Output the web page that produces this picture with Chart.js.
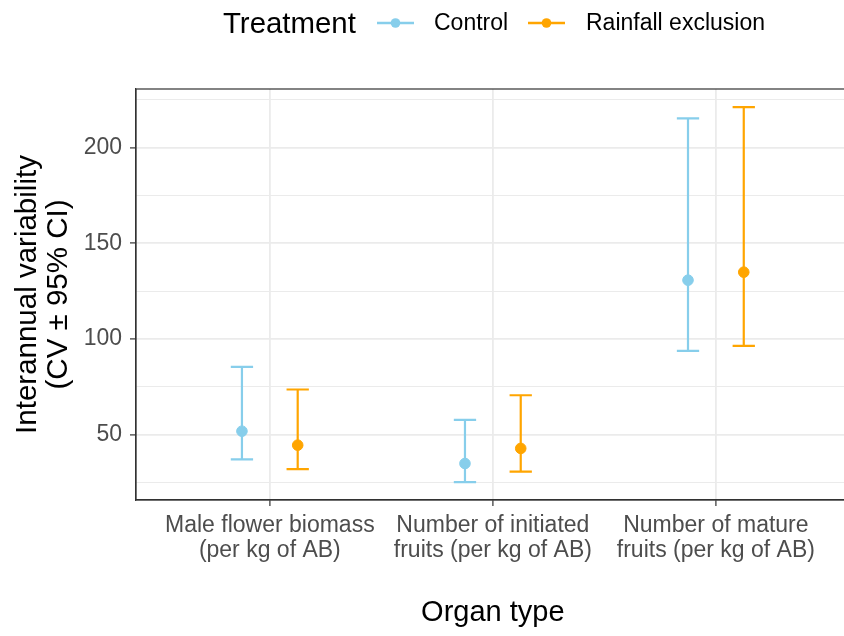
<!DOCTYPE html>
<html>
<head>
<meta charset="utf-8">
<script src="https://cdn.jsdelivr.net/npm/chart.js@4.4.1/dist/chart.umd.min.js"></script>
<style>
  html, body { margin: 0; padding: 0; background: #fff; overflow: hidden; }
  body { width: 844px; height: 636px; position: relative; font-family: "Liberation Sans", Arial, sans-serif; }
  #wrap { position: absolute; left: 0; top: 0; width: 856px; height: 636px; }
  .lg { position: absolute; line-height: 1; white-space: nowrap; color: #000; }
  .mk { position: absolute; }
</style>
</head>
<body>
<div id="wrap"><canvas id="chart" width="856" height="636"></canvas></div>
<div id="legend"></div>
<script>
// categories on the x axis
const organs = [
  ['Male flower biomass', '(per kg of AB)'],
  ['Number of initiated', 'fruits (per kg of AB)'],
  ['Number of mature', 'fruits (per kg of AB)']
];
// treatments and their colours
const treatments = ['Control', 'Rainfall exclusion'];
const colors = ['#87CEEB', '#FFA500'];
// CV values with the 95% CI, one array per treatment
const control_cv = [51.7, 34.8, 130.7];
const control_lo = [36.9, 25.1, 93.7];
const control_hi = [85.3, 57.6, 215.3];
const rain_cv = [44.4, 42.7, 134.9];
const rain_lo = [31.9, 30.5, 96.3];
const rain_hi = [73.5, 70.5, 221.2];

const dodge = 0.125;
const capHalf = 0.05;

// build the datasets, control dodged left and rainfall dodged right
function makeSet(label, color, cv, lo, hi, shift) {
  return {
    label: label,
    data: cv.map((v, i) => ({ x: i + 1 + shift, y: v, lo: lo[i], hi: hi[i] })),
    backgroundColor: color,
    borderColor: color,
    pointRadius: 5.3,
    pointHoverRadius: 5.3,
    showLine: false
  };
}
const datasets = [
  makeSet(treatments[0], colors[0], control_cv, control_lo, control_hi, -dodge),
  makeSet(treatments[1], colors[1], rain_cv, rain_lo, rain_hi, dodge)
];

// error bars drawn through the chart scales, under the points
const errorBars = {
  id: 'errorBars',
  beforeDatasetsDraw(chart) {
    const ctx = chart.ctx;
    const xs = chart.scales.x, ys = chart.scales.y;
    ctx.save();
    chart.data.datasets.forEach(ds => {
      ctx.strokeStyle = ds.borderColor;
      ctx.lineWidth = 2.2;
      ds.data.forEach(p => {
        const x = xs.getPixelForValue(p.x);
        const x0 = xs.getPixelForValue(p.x - capHalf);
        const x1 = xs.getPixelForValue(p.x + capHalf);
        const yl = ys.getPixelForValue(p.lo);
        const yh = ys.getPixelForValue(p.hi);
        ctx.beginPath();
        ctx.moveTo(x, yl); ctx.lineTo(x, yh);
        ctx.moveTo(x0, yl); ctx.lineTo(x1, yl);
        ctx.moveTo(x0, yh); ctx.lineTo(x1, yh);
        ctx.stroke();
      });
    });
    ctx.restore();
  }
};

// panel border
const panelBorder = {
  id: 'panelBorder',
  afterDraw(chart) {
    const a = chart.chartArea, ctx = chart.ctx;
    ctx.save();
    ctx.strokeStyle = '#333';
    ctx.lineWidth = 1.2;
    ctx.strokeRect(a.left, a.top, a.right - a.left, a.bottom - a.top);
    ctx.restore();
  }
};

const isMajor = v => v % 50 === 0;

new Chart(document.getElementById('chart'), {
  type: 'scatter',
  data: { datasets: datasets },
  plugins: [errorBars, panelBorder],
  options: {
    responsive: false,
    animation: false,
    layout: { padding: { top: 89, right: 6, left: 0, bottom: 0 } },
    plugins: { legend: { display: false }, tooltip: { enabled: false } },
    scales: {
      x: {
        type: 'linear',
        min: 0.4,
        max: 3.6,
        afterBuildTicks: s => { s.ticks = [1, 2, 3].map(v => ({ value: v })); },
        afterFit: s => { s.height = 136; },
        ticks: {
          callback: v => organs[v - 1],
          color: '#4d4d4d',
          font: { family: 'Liberation Sans', size: 23, lineHeight: '24.5px' },
          padding: 7.5,
          maxRotation: 0,
          autoSkip: false
        },
        grid: { color: '#ebebeb', lineWidth: 1.8, tickLength: 6, tickColor: '#333', tickWidth: 1.2 },
        border: { color: '#333', width: 1.2 },
        title: {
          display: true,
          text: 'Organ type',
          color: '#000',
          font: { family: 'Liberation Sans', size: 29, lineHeight: 1.2 },
          padding: { top: 0, bottom: 6 }
        }
      },
      y: {
        min: 15.7,
        max: 230.7,
        afterBuildTicks: s => { s.ticks = [25, 50, 75, 100, 125, 150, 175, 200, 225].map(v => ({ value: v })); },
        afterFit: s => { s.width = 136; },
        ticks: {
          callback: v => isMajor(v) ? String(v) : '',
          color: '#4d4d4d',
          font: { family: 'Liberation Sans', size: 23 },
          padding: 8
        },
        grid: {
          color: '#ebebeb',
          lineWidth: c => isMajor(c.tick.value) ? 1.8 : 1,
          tickLength: 6,
          tickColor: c => isMajor(c.tick.value) ? '#333' : 'rgba(0,0,0,0)',
          tickWidth: 1.2
        },
        border: { color: '#333', width: 1.2 },
        title: {
          display: true,
          text: ['Interannual variability', '(CV \u00b1 95% CI)'],
          color: '#000',
          font: { family: 'Liberation Sans', size: 29.5, lineHeight: '31px' },
          padding: { top: 12.5, bottom: 0 }
        }
      }
    }
  }
});

// legend built from the same series, placed as in the reference
const legend = document.getElementById('legend');
const itemPos = [{ mk: 377, tx: 434 }, { mk: 528, tx: 586 }];
let html = '<span class="lg" style="left:223px;top:7.7px;font-size:29.4px">Treatment</span>';
treatments.forEach((t, i) => {
  html += `<svg class="mk" style="left:${itemPos[i].mk}px;top:16.7px" width="37" height="12"><line x1="0" y1="6" x2="37" y2="6" stroke="${colors[i]}" stroke-width="2.6"/><circle cx="18.5" cy="6" r="4.8" fill="${colors[i]}"/></svg>`;
  html += `<span class="lg" style="left:${itemPos[i].tx}px;top:10.8px;font-size:23px">${t}</span>`;
});
legend.innerHTML = html;
</script>
</body>
</html>
